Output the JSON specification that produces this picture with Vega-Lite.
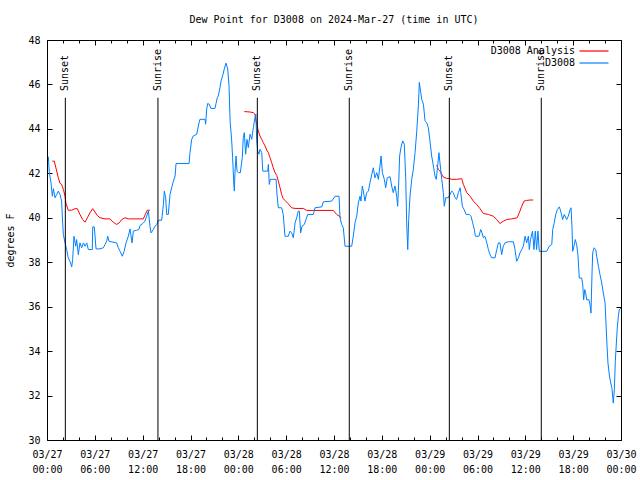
{
"$schema": "https://vega.github.io/schema/vega-lite/v6.json",
"width": 574, "height": 400,
"autosize": {"type": "none"},
"padding": {"left": 47, "top": 40, "right": 19, "bottom": 40},
"background": "white",
"title": {"text": "Dew Point for D3008 on 2024-Mar-27 (time in UTC)", "font": "DejaVu Sans Mono", "fontSize": 10, "fontWeight": "normal", "color": "black", "anchor": "middle", "offset": 10},
"datasets": {
"dew": [
{"t":"2024-03-27T00:10:00Z","v":42.75,"s":"D3008","g":0},
{"t":"2024-03-27T00:17:00Z","v":42.06,"s":"D3008","g":0},
{"t":"2024-03-27T00:30:00Z","v":41.58,"s":"D3008","g":0},
{"t":"2024-03-27T00:40:00Z","v":40.97,"s":"D3008","g":0},
{"t":"2024-03-27T00:48:00Z","v":41.31,"s":"D3008","g":0},
{"t":"2024-03-27T01:00:00Z","v":40.9,"s":"D3008","g":0},
{"t":"2024-03-27T01:13:00Z","v":41.05,"s":"D3008","g":0},
{"t":"2024-03-27T01:25:00Z","v":41.2,"s":"D3008","g":0},
{"t":"2024-03-27T01:38:00Z","v":41.05,"s":"D3008","g":0},
{"t":"2024-03-27T01:50:00Z","v":40.75,"s":"D3008","g":0},
{"t":"2024-03-27T01:58:00Z","v":39.77,"s":"D3008","g":0},
{"t":"2024-03-27T02:03:00Z","v":39.25,"s":"D3008","g":0},
{"t":"2024-03-27T02:16:00Z","v":38.87,"s":"D3008","g":0},
{"t":"2024-03-27T02:28:00Z","v":38.57,"s":"D3008","g":0},
{"t":"2024-03-27T02:40:00Z","v":38.2,"s":"D3008","g":0},
{"t":"2024-03-27T02:53:00Z","v":38.04,"s":"D3008","g":0},
{"t":"2024-03-27T03:06:00Z","v":37.79,"s":"D3008","g":0},
{"t":"2024-03-27T03:13:00Z","v":38.12,"s":"D3008","g":0},
{"t":"2024-03-27T03:23:00Z","v":39.17,"s":"D3008","g":0},
{"t":"2024-03-27T03:36:00Z","v":38.72,"s":"D3008","g":0},
{"t":"2024-03-27T03:43:00Z","v":39.02,"s":"D3008","g":0},
{"t":"2024-03-27T03:56:00Z","v":38.34,"s":"D3008","g":0},
{"t":"2024-03-27T04:08:00Z","v":38.87,"s":"D3008","g":0},
{"t":"2024-03-27T04:21:00Z","v":38.65,"s":"D3008","g":0},
{"t":"2024-03-27T04:34:00Z","v":38.87,"s":"D3008","g":0},
{"t":"2024-03-27T04:46:00Z","v":38.72,"s":"D3008","g":0},
{"t":"2024-03-27T04:59:00Z","v":38.87,"s":"D3008","g":0},
{"t":"2024-03-27T05:11:00Z","v":38.57,"s":"D3008","g":0},
{"t":"2024-03-27T05:41:00Z","v":38.57,"s":"D3008","g":0},
{"t":"2024-03-27T05:44:00Z","v":39.59,"s":"D3008","g":0},
{"t":"2024-03-27T05:56:00Z","v":39.59,"s":"D3008","g":0},
{"t":"2024-03-27T06:09:00Z","v":38.6,"s":"D3008","g":0},
{"t":"2024-03-27T06:39:00Z","v":38.6,"s":"D3008","g":0},
{"t":"2024-03-27T07:04:00Z","v":38.65,"s":"D3008","g":0},
{"t":"2024-03-27T07:17:00Z","v":38.8,"s":"D3008","g":0},
{"t":"2024-03-27T07:29:00Z","v":38.94,"s":"D3008","g":0},
{"t":"2024-03-27T07:37:00Z","v":39.17,"s":"D3008","g":0},
{"t":"2024-03-27T07:47:00Z","v":38.94,"s":"D3008","g":0},
{"t":"2024-03-27T08:44:00Z","v":38.87,"s":"D3008","g":0},
{"t":"2024-03-27T08:57:00Z","v":38.65,"s":"D3008","g":0},
{"t":"2024-03-27T09:10:00Z","v":38.49,"s":"D3008","g":0},
{"t":"2024-03-27T09:27:00Z","v":38.27,"s":"D3008","g":0},
{"t":"2024-03-27T09:40:00Z","v":38.49,"s":"D3008","g":0},
{"t":"2024-03-27T09:55:00Z","v":38.87,"s":"D3008","g":0},
{"t":"2024-03-27T10:12:00Z","v":39.17,"s":"D3008","g":0},
{"t":"2024-03-27T10:25:00Z","v":39.5,"s":"D3008","g":0},
{"t":"2024-03-27T10:40:00Z","v":38.87,"s":"D3008","g":0},
{"t":"2024-03-27T10:50:00Z","v":39.4,"s":"D3008","g":0},
{"t":"2024-03-27T11:15:00Z","v":39.44,"s":"D3008","g":0},
{"t":"2024-03-27T11:32:00Z","v":39.47,"s":"D3008","g":0},
{"t":"2024-03-27T11:40:00Z","v":39.65,"s":"D3008","g":0},
{"t":"2024-03-27T12:00:00Z","v":39.74,"s":"D3008","g":0},
{"t":"2024-03-27T12:17:00Z","v":39.85,"s":"D3008","g":0},
{"t":"2024-03-27T12:30:00Z","v":40.07,"s":"D3008","g":0},
{"t":"2024-03-27T12:43:00Z","v":40.3,"s":"D3008","g":0},
{"t":"2024-03-27T12:55:00Z","v":39.62,"s":"D3008","g":0},
{"t":"2024-03-27T13:03:00Z","v":39.32,"s":"D3008","g":0},
{"t":"2024-03-27T13:20:00Z","v":39.47,"s":"D3008","g":0},
{"t":"2024-03-27T13:33:00Z","v":39.62,"s":"D3008","g":0},
{"t":"2024-03-27T13:46:00Z","v":39.7,"s":"D3008","g":0},
{"t":"2024-03-27T13:58:00Z","v":39.89,"s":"D3008","g":0},
{"t":"2024-03-27T14:23:00Z","v":39.89,"s":"D3008","g":0},
{"t":"2024-03-27T14:36:00Z","v":40.6,"s":"D3008","g":0},
{"t":"2024-03-27T14:43:00Z","v":41.2,"s":"D3008","g":0},
{"t":"2024-03-27T14:53:00Z","v":40.9,"s":"D3008","g":0},
{"t":"2024-03-27T15:01:00Z","v":40.15,"s":"D3008","g":0},
{"t":"2024-03-27T15:13:00Z","v":40.15,"s":"D3008","g":0},
{"t":"2024-03-27T15:26:00Z","v":41.05,"s":"D3008","g":0},
{"t":"2024-03-27T15:38:00Z","v":41.35,"s":"D3008","g":0},
{"t":"2024-03-27T15:51:00Z","v":41.65,"s":"D3008","g":0},
{"t":"2024-03-27T16:04:00Z","v":41.88,"s":"D3008","g":0},
{"t":"2024-03-27T16:11:00Z","v":42.44,"s":"D3008","g":0},
{"t":"2024-03-27T17:49:00Z","v":42.44,"s":"D3008","g":0},
{"t":"2024-03-27T17:56:00Z","v":42.93,"s":"D3008","g":0},
{"t":"2024-03-27T18:09:00Z","v":43.53,"s":"D3008","g":0},
{"t":"2024-03-27T18:21:00Z","v":43.68,"s":"D3008","g":0},
{"t":"2024-03-27T18:47:00Z","v":43.76,"s":"D3008","g":0},
{"t":"2024-03-27T18:59:00Z","v":44.13,"s":"D3008","g":0},
{"t":"2024-03-27T19:11:00Z","v":44.43,"s":"D3008","g":0},
{"t":"2024-03-27T19:49:00Z","v":44.43,"s":"D3008","g":0},
{"t":"2024-03-27T19:54:00Z","v":44.21,"s":"D3008","g":0},
{"t":"2024-03-27T20:02:00Z","v":44.89,"s":"D3008","g":0},
{"t":"2024-03-27T20:09:00Z","v":45.14,"s":"D3008","g":0},
{"t":"2024-03-27T20:21:00Z","v":45.11,"s":"D3008","g":0},
{"t":"2024-03-27T20:34:00Z","v":44.92,"s":"D3008","g":0},
{"t":"2024-03-27T21:04:00Z","v":44.92,"s":"D3008","g":0},
{"t":"2024-03-27T21:12:00Z","v":45.14,"s":"D3008","g":0},
{"t":"2024-03-27T21:22:00Z","v":45.41,"s":"D3008","g":0},
{"t":"2024-03-27T21:29:00Z","v":45.48,"s":"D3008","g":0},
{"t":"2024-03-27T21:42:00Z","v":45.86,"s":"D3008","g":0},
{"t":"2024-03-27T21:50:00Z","v":46.16,"s":"D3008","g":0},
{"t":"2024-03-27T22:02:00Z","v":46.39,"s":"D3008","g":0},
{"t":"2024-03-27T22:14:00Z","v":46.69,"s":"D3008","g":0},
{"t":"2024-03-27T22:27:00Z","v":46.96,"s":"D3008","g":0},
{"t":"2024-03-27T22:40:00Z","v":46.69,"s":"D3008","g":0},
{"t":"2024-03-27T22:50:00Z","v":45.94,"s":"D3008","g":0},
{"t":"2024-03-27T22:58:00Z","v":44.36,"s":"D3008","g":0},
{"t":"2024-03-27T23:10:00Z","v":43.46,"s":"D3008","g":0},
{"t":"2024-03-27T23:17:00Z","v":42.71,"s":"D3008","g":0},
{"t":"2024-03-27T23:25:00Z","v":41.65,"s":"D3008","g":0},
{"t":"2024-03-27T23:30:00Z","v":41.2,"s":"D3008","g":0},
{"t":"2024-03-27T23:35:00Z","v":42.1,"s":"D3008","g":0},
{"t":"2024-03-27T23:43:00Z","v":42.78,"s":"D3008","g":0},
{"t":"2024-03-27T23:50:00Z","v":42.1,"s":"D3008","g":0},
{"t":"2024-03-28T00:00:00Z","v":42.03,"s":"D3008","g":0},
{"t":"2024-03-28T00:15:00Z","v":42.03,"s":"D3008","g":0},
{"t":"2024-03-28T00:30:00Z","v":42.71,"s":"D3008","g":0},
{"t":"2024-03-28T00:37:00Z","v":43.61,"s":"D3008","g":0},
{"t":"2024-03-28T00:45:00Z","v":43.83,"s":"D3008","g":0},
{"t":"2024-03-28T00:55:00Z","v":42.86,"s":"D3008","g":0},
{"t":"2024-03-28T01:05:00Z","v":43.53,"s":"D3008","g":0},
{"t":"2024-03-28T01:15:00Z","v":43.16,"s":"D3008","g":0},
{"t":"2024-03-28T01:28:00Z","v":43.76,"s":"D3008","g":0},
{"t":"2024-03-28T01:41:00Z","v":43.53,"s":"D3008","g":0},
{"t":"2024-03-28T01:53:00Z","v":44.06,"s":"D3008","g":0},
{"t":"2024-03-28T02:05:00Z","v":44.51,"s":"D3008","g":0},
{"t":"2024-03-28T02:12:00Z","v":44.66,"s":"D3008","g":0},
{"t":"2024-03-28T02:18:00Z","v":43.53,"s":"D3008","g":0},
{"t":"2024-03-28T02:26:00Z","v":43.0,"s":"D3008","g":0},
{"t":"2024-03-28T02:35:00Z","v":42.86,"s":"D3008","g":0},
{"t":"2024-03-28T02:43:00Z","v":43.08,"s":"D3008","g":0},
{"t":"2024-03-28T02:56:00Z","v":42.93,"s":"D3008","g":0},
{"t":"2024-03-28T03:04:00Z","v":42.1,"s":"D3008","g":0},
{"t":"2024-03-28T03:41:00Z","v":42.1,"s":"D3008","g":0},
{"t":"2024-03-28T03:46:00Z","v":42.4,"s":"D3008","g":0},
{"t":"2024-03-28T03:53:00Z","v":41.5,"s":"D3008","g":0},
{"t":"2024-03-28T04:01:00Z","v":41.73,"s":"D3008","g":0},
{"t":"2024-03-28T04:44:00Z","v":41.73,"s":"D3008","g":0},
{"t":"2024-03-28T04:51:00Z","v":41.05,"s":"D3008","g":0},
{"t":"2024-03-28T05:01:00Z","v":40.45,"s":"D3008","g":0},
{"t":"2024-03-28T05:26:00Z","v":40.45,"s":"D3008","g":0},
{"t":"2024-03-28T05:38:00Z","v":40.15,"s":"D3008","g":0},
{"t":"2024-03-28T05:51:00Z","v":39.17,"s":"D3008","g":0},
{"t":"2024-03-28T06:16:00Z","v":39.17,"s":"D3008","g":0},
{"t":"2024-03-28T06:29:00Z","v":39.4,"s":"D3008","g":0},
{"t":"2024-03-28T06:41:00Z","v":39.32,"s":"D3008","g":0},
{"t":"2024-03-28T06:54:00Z","v":39.1,"s":"D3008","g":0},
{"t":"2024-03-28T07:07:00Z","v":39.77,"s":"D3008","g":0},
{"t":"2024-03-28T07:19:00Z","v":40.0,"s":"D3008","g":0},
{"t":"2024-03-28T07:31:00Z","v":40.3,"s":"D3008","g":0},
{"t":"2024-03-28T07:39:00Z","v":40.3,"s":"D3008","g":0},
{"t":"2024-03-28T07:49:00Z","v":39.32,"s":"D3008","g":0},
{"t":"2024-03-28T07:59:00Z","v":39.62,"s":"D3008","g":0},
{"t":"2024-03-28T08:17:00Z","v":39.7,"s":"D3008","g":0},
{"t":"2024-03-28T08:29:00Z","v":39.92,"s":"D3008","g":0},
{"t":"2024-03-28T08:42:00Z","v":40.15,"s":"D3008","g":0},
{"t":"2024-03-28T09:25:00Z","v":40.15,"s":"D3008","g":0},
{"t":"2024-03-28T09:37:00Z","v":40.45,"s":"D3008","g":0},
{"t":"2024-03-28T10:28:00Z","v":40.49,"s":"D3008","g":0},
{"t":"2024-03-28T10:40:00Z","v":40.72,"s":"D3008","g":0},
{"t":"2024-03-28T11:43:00Z","v":40.75,"s":"D3008","g":0},
{"t":"2024-03-28T12:08:00Z","v":40.97,"s":"D3008","g":0},
{"t":"2024-03-28T12:38:00Z","v":40.97,"s":"D3008","g":0},
{"t":"2024-03-28T12:45:00Z","v":40.0,"s":"D3008","g":0},
{"t":"2024-03-28T12:58:00Z","v":39.7,"s":"D3008","g":0},
{"t":"2024-03-28T13:10:00Z","v":39.55,"s":"D3008","g":0},
{"t":"2024-03-28T13:23:00Z","v":38.72,"s":"D3008","g":0},
{"t":"2024-03-28T14:13:00Z","v":38.72,"s":"D3008","g":0},
{"t":"2024-03-28T14:25:00Z","v":39.17,"s":"D3008","g":0},
{"t":"2024-03-28T14:38:00Z","v":39.77,"s":"D3008","g":0},
{"t":"2024-03-28T14:51:00Z","v":40.07,"s":"D3008","g":0},
{"t":"2024-03-28T15:03:00Z","v":40.67,"s":"D3008","g":0},
{"t":"2024-03-28T15:16:00Z","v":40.97,"s":"D3008","g":0},
{"t":"2024-03-28T15:23:00Z","v":40.75,"s":"D3008","g":0},
{"t":"2024-03-28T15:33:00Z","v":41.43,"s":"D3008","g":0},
{"t":"2024-03-28T15:41:00Z","v":41.2,"s":"D3008","g":0},
{"t":"2024-03-28T15:53:00Z","v":40.75,"s":"D3008","g":0},
{"t":"2024-03-28T16:06:00Z","v":41.13,"s":"D3008","g":0},
{"t":"2024-03-28T16:19:00Z","v":41.2,"s":"D3008","g":0},
{"t":"2024-03-28T16:31:00Z","v":41.58,"s":"D3008","g":0},
{"t":"2024-03-28T16:44:00Z","v":41.95,"s":"D3008","g":0},
{"t":"2024-03-28T16:56:00Z","v":42.25,"s":"D3008","g":0},
{"t":"2024-03-28T17:08:00Z","v":41.8,"s":"D3008","g":0},
{"t":"2024-03-28T17:22:00Z","v":42.03,"s":"D3008","g":0},
{"t":"2024-03-28T17:34:00Z","v":41.73,"s":"D3008","g":0},
{"t":"2024-03-28T17:46:00Z","v":42.33,"s":"D3008","g":0},
{"t":"2024-03-28T17:54:00Z","v":42.78,"s":"D3008","g":0},
{"t":"2024-03-28T18:04:00Z","v":42.03,"s":"D3008","g":0},
{"t":"2024-03-28T18:19:00Z","v":41.73,"s":"D3008","g":0},
{"t":"2024-03-28T18:29:00Z","v":41.35,"s":"D3008","g":0},
{"t":"2024-03-28T18:41:00Z","v":41.8,"s":"D3008","g":0},
{"t":"2024-03-28T19:02:00Z","v":41.85,"s":"D3008","g":0},
{"t":"2024-03-28T19:14:00Z","v":41.43,"s":"D3008","g":0},
{"t":"2024-03-28T19:26:00Z","v":41.13,"s":"D3008","g":0},
{"t":"2024-03-28T19:39:00Z","v":41.43,"s":"D3008","g":0},
{"t":"2024-03-28T19:52:00Z","v":40.97,"s":"D3008","g":0},
{"t":"2024-03-28T19:59:00Z","v":40.52,"s":"D3008","g":0},
{"t":"2024-03-28T20:07:00Z","v":41.58,"s":"D3008","g":0},
{"t":"2024-03-28T20:14:00Z","v":42.78,"s":"D3008","g":0},
{"t":"2024-03-28T20:24:00Z","v":43.16,"s":"D3008","g":0},
{"t":"2024-03-28T20:37:00Z","v":43.46,"s":"D3008","g":0},
{"t":"2024-03-28T20:49:00Z","v":43.31,"s":"D3008","g":0},
{"t":"2024-03-28T21:00:00Z","v":41.73,"s":"D3008","g":0},
{"t":"2024-03-28T21:07:00Z","v":39.77,"s":"D3008","g":0},
{"t":"2024-03-28T21:15:00Z","v":38.57,"s":"D3008","g":0},
{"t":"2024-03-28T21:22:00Z","v":39.92,"s":"D3008","g":0},
{"t":"2024-03-28T21:32:00Z","v":40.97,"s":"D3008","g":0},
{"t":"2024-03-28T21:45:00Z","v":41.73,"s":"D3008","g":0},
{"t":"2024-03-28T21:57:00Z","v":42.18,"s":"D3008","g":0},
{"t":"2024-03-28T22:10:00Z","v":42.93,"s":"D3008","g":0},
{"t":"2024-03-28T22:23:00Z","v":43.91,"s":"D3008","g":0},
{"t":"2024-03-28T22:35:00Z","v":45.03,"s":"D3008","g":0},
{"t":"2024-03-28T22:42:00Z","v":46.09,"s":"D3008","g":0},
{"t":"2024-03-28T22:53:00Z","v":45.63,"s":"D3008","g":0},
{"t":"2024-03-28T23:00:00Z","v":45.33,"s":"D3008","g":0},
{"t":"2024-03-28T23:13:00Z","v":45.11,"s":"D3008","g":0},
{"t":"2024-03-28T23:25:00Z","v":44.36,"s":"D3008","g":0},
{"t":"2024-03-28T23:38:00Z","v":44.28,"s":"D3008","g":0},
{"t":"2024-03-28T23:50:00Z","v":44.06,"s":"D3008","g":0},
{"t":"2024-03-29T00:02:00Z","v":43.46,"s":"D3008","g":0},
{"t":"2024-03-29T00:15:00Z","v":42.78,"s":"D3008","g":0},
{"t":"2024-03-29T00:28:00Z","v":42.33,"s":"D3008","g":0},
{"t":"2024-03-29T00:40:00Z","v":41.88,"s":"D3008","g":0},
{"t":"2024-03-29T00:50:00Z","v":41.73,"s":"D3008","g":0},
{"t":"2024-03-29T01:00:00Z","v":42.33,"s":"D3008","g":0},
{"t":"2024-03-29T01:10:00Z","v":42.93,"s":"D3008","g":0},
{"t":"2024-03-29T01:20:00Z","v":42.33,"s":"D3008","g":0},
{"t":"2024-03-29T01:31:00Z","v":41.73,"s":"D3008","g":0},
{"t":"2024-03-29T01:43:00Z","v":41.13,"s":"D3008","g":0},
{"t":"2024-03-29T01:50:00Z","v":40.52,"s":"D3008","g":0},
{"t":"2024-03-29T02:01:00Z","v":40.9,"s":"D3008","g":0},
{"t":"2024-03-29T02:20:00Z","v":40.9,"s":"D3008","g":0},
{"t":"2024-03-29T02:33:00Z","v":41.05,"s":"D3008","g":0},
{"t":"2024-03-29T02:46:00Z","v":41.2,"s":"D3008","g":0},
{"t":"2024-03-29T02:58:00Z","v":41.13,"s":"D3008","g":0},
{"t":"2024-03-29T03:11:00Z","v":40.9,"s":"D3008","g":0},
{"t":"2024-03-29T03:23:00Z","v":40.83,"s":"D3008","g":0},
{"t":"2024-03-29T03:36:00Z","v":41.13,"s":"D3008","g":0},
{"t":"2024-03-29T03:49:00Z","v":41.35,"s":"D3008","g":0},
{"t":"2024-03-29T03:54:00Z","v":41.13,"s":"D3008","g":0},
{"t":"2024-03-29T04:06:00Z","v":40.52,"s":"D3008","g":0},
{"t":"2024-03-29T04:19:00Z","v":40.37,"s":"D3008","g":0},
{"t":"2024-03-29T04:34:00Z","v":40.15,"s":"D3008","g":0},
{"t":"2024-03-29T04:58:00Z","v":40.15,"s":"D3008","g":0},
{"t":"2024-03-29T05:11:00Z","v":40.07,"s":"D3008","g":0},
{"t":"2024-03-29T05:24:00Z","v":39.77,"s":"D3008","g":0},
{"t":"2024-03-29T05:36:00Z","v":39.47,"s":"D3008","g":0},
{"t":"2024-03-29T05:44:00Z","v":39.17,"s":"D3008","g":0},
{"t":"2024-03-29T06:11:00Z","v":39.17,"s":"D3008","g":0},
{"t":"2024-03-29T06:24:00Z","v":39.47,"s":"D3008","g":0},
{"t":"2024-03-29T06:34:00Z","v":39.32,"s":"D3008","g":0},
{"t":"2024-03-29T06:44:00Z","v":39.1,"s":"D3008","g":0},
{"t":"2024-03-29T06:56:00Z","v":39.17,"s":"D3008","g":0},
{"t":"2024-03-29T07:10:00Z","v":38.87,"s":"D3008","g":0},
{"t":"2024-03-29T07:22:00Z","v":38.57,"s":"D3008","g":0},
{"t":"2024-03-29T07:34:00Z","v":38.34,"s":"D3008","g":0},
{"t":"2024-03-29T07:47:00Z","v":38.2,"s":"D3008","g":0},
{"t":"2024-03-29T08:12:00Z","v":38.2,"s":"D3008","g":0},
{"t":"2024-03-29T08:25:00Z","v":38.57,"s":"D3008","g":0},
{"t":"2024-03-29T08:37:00Z","v":38.87,"s":"D3008","g":0},
{"t":"2024-03-29T08:49:00Z","v":38.87,"s":"D3008","g":0},
{"t":"2024-03-29T09:02:00Z","v":38.34,"s":"D3008","g":0},
{"t":"2024-03-29T09:14:00Z","v":38.72,"s":"D3008","g":0},
{"t":"2024-03-29T09:27:00Z","v":38.87,"s":"D3008","g":0},
{"t":"2024-03-29T09:52:00Z","v":38.92,"s":"D3008","g":0},
{"t":"2024-03-29T10:30:00Z","v":38.92,"s":"D3008","g":0},
{"t":"2024-03-29T10:42:00Z","v":38.57,"s":"D3008","g":0},
{"t":"2024-03-29T10:55:00Z","v":38.04,"s":"D3008","g":0},
{"t":"2024-03-29T11:08:00Z","v":38.2,"s":"D3008","g":0},
{"t":"2024-03-29T11:20:00Z","v":38.42,"s":"D3008","g":0},
{"t":"2024-03-29T11:33:00Z","v":38.57,"s":"D3008","g":0},
{"t":"2024-03-29T11:45:00Z","v":38.72,"s":"D3008","g":0},
{"t":"2024-03-29T11:58:00Z","v":39.17,"s":"D3008","g":0},
{"t":"2024-03-29T12:10:00Z","v":38.87,"s":"D3008","g":0},
{"t":"2024-03-29T12:23:00Z","v":39.17,"s":"D3008","g":0},
{"t":"2024-03-29T12:30:00Z","v":38.57,"s":"D3008","g":0},
{"t":"2024-03-29T12:39:00Z","v":39.02,"s":"D3008","g":0},
{"t":"2024-03-29T12:54:00Z","v":39.4,"s":"D3008","g":0},
{"t":"2024-03-29T13:05:00Z","v":38.57,"s":"D3008","g":0},
{"t":"2024-03-29T13:15:00Z","v":39.4,"s":"D3008","g":0},
{"t":"2024-03-29T13:25:00Z","v":38.57,"s":"D3008","g":0},
{"t":"2024-03-29T13:35:00Z","v":39.4,"s":"D3008","g":0},
{"t":"2024-03-29T13:45:00Z","v":38.49,"s":"D3008","g":0},
{"t":"2024-03-29T14:41:00Z","v":38.49,"s":"D3008","g":0},
{"t":"2024-03-29T15:00:00Z","v":38.72,"s":"D3008","g":0},
{"t":"2024-03-29T15:19:00Z","v":38.8,"s":"D3008","g":0},
{"t":"2024-03-29T15:26:00Z","v":39.47,"s":"D3008","g":0},
{"t":"2024-03-29T15:36:00Z","v":39.74,"s":"D3008","g":0},
{"t":"2024-03-29T15:49:00Z","v":40.15,"s":"D3008","g":0},
{"t":"2024-03-29T16:01:00Z","v":40.37,"s":"D3008","g":0},
{"t":"2024-03-29T16:16:00Z","v":40.49,"s":"D3008","g":0},
{"t":"2024-03-29T16:26:00Z","v":40.3,"s":"D3008","g":0},
{"t":"2024-03-29T16:41:00Z","v":39.92,"s":"D3008","g":0},
{"t":"2024-03-29T16:53:00Z","v":40.15,"s":"D3008","g":0},
{"t":"2024-03-29T17:11:00Z","v":39.92,"s":"D3008","g":0},
{"t":"2024-03-29T17:23:00Z","v":40.07,"s":"D3008","g":0},
{"t":"2024-03-29T17:37:00Z","v":40.37,"s":"D3008","g":0},
{"t":"2024-03-29T17:44:00Z","v":40.45,"s":"D3008","g":0},
{"t":"2024-03-29T17:52:00Z","v":39.47,"s":"D3008","g":0},
{"t":"2024-03-29T17:56:00Z","v":38.49,"s":"D3008","g":0},
{"t":"2024-03-29T18:06:00Z","v":38.72,"s":"D3008","g":0},
{"t":"2024-03-29T18:16:00Z","v":39.02,"s":"D3008","g":0},
{"t":"2024-03-29T18:26:00Z","v":38.8,"s":"D3008","g":0},
{"t":"2024-03-29T18:36:00Z","v":38.34,"s":"D3008","g":0},
{"t":"2024-03-29T18:46:00Z","v":37.29,"s":"D3008","g":0},
{"t":"2024-03-29T19:04:00Z","v":37.29,"s":"D3008","g":0},
{"t":"2024-03-29T19:12:00Z","v":36.99,"s":"D3008","g":0},
{"t":"2024-03-29T19:19:00Z","v":36.31,"s":"D3008","g":0},
{"t":"2024-03-29T19:27:00Z","v":36.77,"s":"D3008","g":0},
{"t":"2024-03-29T19:34:00Z","v":36.62,"s":"D3008","g":0},
{"t":"2024-03-29T19:42:00Z","v":36.31,"s":"D3008","g":0},
{"t":"2024-03-29T19:59:00Z","v":36.31,"s":"D3008","g":0},
{"t":"2024-03-29T20:07:00Z","v":36.09,"s":"D3008","g":0},
{"t":"2024-03-29T20:14:00Z","v":35.71,"s":"D3008","g":0},
{"t":"2024-03-29T20:22:00Z","v":37.52,"s":"D3008","g":0},
{"t":"2024-03-29T20:27:00Z","v":38.42,"s":"D3008","g":0},
{"t":"2024-03-29T20:37:00Z","v":38.65,"s":"D3008","g":0},
{"t":"2024-03-29T20:50:00Z","v":38.57,"s":"D3008","g":0},
{"t":"2024-03-29T20:57:00Z","v":38.27,"s":"D3008","g":0},
{"t":"2024-03-29T21:10:00Z","v":37.82,"s":"D3008","g":0},
{"t":"2024-03-29T21:22:00Z","v":37.44,"s":"D3008","g":0},
{"t":"2024-03-29T21:35:00Z","v":37.07,"s":"D3008","g":0},
{"t":"2024-03-29T21:47:00Z","v":36.62,"s":"D3008","g":0},
{"t":"2024-03-29T22:00:00Z","v":36.17,"s":"D3008","g":0},
{"t":"2024-03-29T22:07:00Z","v":35.26,"s":"D3008","g":0},
{"t":"2024-03-29T22:15:00Z","v":34.21,"s":"D3008","g":0},
{"t":"2024-03-29T22:22:00Z","v":33.46,"s":"D3008","g":0},
{"t":"2024-03-29T22:32:00Z","v":32.93,"s":"D3008","g":0},
{"t":"2024-03-29T22:43:00Z","v":32.56,"s":"D3008","g":0},
{"t":"2024-03-29T22:52:00Z","v":32.33,"s":"D3008","g":0},
{"t":"2024-03-29T23:02:00Z","v":31.66,"s":"D3008","g":0},
{"t":"2024-03-29T23:10:00Z","v":32.26,"s":"D3008","g":0},
{"t":"2024-03-29T23:17:00Z","v":33.53,"s":"D3008","g":0},
{"t":"2024-03-29T23:25:00Z","v":34.36,"s":"D3008","g":0},
{"t":"2024-03-29T23:32:00Z","v":35.04,"s":"D3008","g":0},
{"t":"2024-03-29T23:40:00Z","v":35.56,"s":"D3008","g":0},
{"t":"2024-03-29T23:47:00Z","v":35.86,"s":"D3008","g":0},
{"t":"2024-03-30T00:00:00Z","v":35.94,"s":"D3008","g":0},
{"t":"2024-03-27T00:40:00Z","v":42.55,"s":"D3008 Analysis","g":1},
{"t":"2024-03-27T00:55:00Z","v":42.55,"s":"D3008 Analysis","g":1},
{"t":"2024-03-27T01:13:00Z","v":42.1,"s":"D3008 Analysis","g":1},
{"t":"2024-03-27T01:25:00Z","v":41.8,"s":"D3008 Analysis","g":1},
{"t":"2024-03-27T01:38:00Z","v":41.55,"s":"D3008 Analysis","g":1},
{"t":"2024-03-27T01:50:00Z","v":41.5,"s":"D3008 Analysis","g":1},
{"t":"2024-03-27T02:03:00Z","v":41.28,"s":"D3008 Analysis","g":1},
{"t":"2024-03-27T02:16:00Z","v":40.97,"s":"D3008 Analysis","g":1},
{"t":"2024-03-27T02:23:00Z","v":40.64,"s":"D3008 Analysis","g":1},
{"t":"2024-03-27T02:40:00Z","v":40.34,"s":"D3008 Analysis","g":1},
{"t":"2024-03-27T03:06:00Z","v":40.34,"s":"D3008 Analysis","g":1},
{"t":"2024-03-27T03:31:00Z","v":40.41,"s":"D3008 Analysis","g":1},
{"t":"2024-03-27T03:48:00Z","v":40.41,"s":"D3008 Analysis","g":1},
{"t":"2024-03-27T04:08:00Z","v":40.15,"s":"D3008 Analysis","g":1},
{"t":"2024-03-27T04:28:00Z","v":39.92,"s":"D3008 Analysis","g":1},
{"t":"2024-03-27T04:46:00Z","v":39.8,"s":"D3008 Analysis","g":1},
{"t":"2024-03-27T05:04:00Z","v":40.0,"s":"D3008 Analysis","g":1},
{"t":"2024-03-27T05:23:00Z","v":40.22,"s":"D3008 Analysis","g":1},
{"t":"2024-03-27T05:44:00Z","v":40.41,"s":"D3008 Analysis","g":1},
{"t":"2024-03-27T06:01:00Z","v":40.26,"s":"D3008 Analysis","g":1},
{"t":"2024-03-27T06:19:00Z","v":40.1,"s":"D3008 Analysis","g":1},
{"t":"2024-03-27T06:39:00Z","v":40.0,"s":"D3008 Analysis","g":1},
{"t":"2024-03-27T07:17:00Z","v":39.95,"s":"D3008 Analysis","g":1},
{"t":"2024-03-27T07:54:00Z","v":39.95,"s":"D3008 Analysis","g":1},
{"t":"2024-03-27T08:19:00Z","v":39.8,"s":"D3008 Analysis","g":1},
{"t":"2024-03-27T08:44:00Z","v":39.7,"s":"D3008 Analysis","g":1},
{"t":"2024-03-27T09:04:00Z","v":39.77,"s":"D3008 Analysis","g":1},
{"t":"2024-03-27T09:22:00Z","v":39.92,"s":"D3008 Analysis","g":1},
{"t":"2024-03-27T09:47:00Z","v":40.0,"s":"D3008 Analysis","g":1},
{"t":"2024-03-27T10:12:00Z","v":39.95,"s":"D3008 Analysis","g":1},
{"t":"2024-03-27T12:05:00Z","v":39.95,"s":"D3008 Analysis","g":1},
{"t":"2024-03-27T12:20:00Z","v":40.15,"s":"D3008 Analysis","g":1},
{"t":"2024-03-27T12:35:00Z","v":40.34,"s":"D3008 Analysis","g":1},
{"t":"2024-03-27T12:55:00Z","v":40.34,"s":"D3008 Analysis","g":1},
{"t":"2024-03-28T00:45:00Z","v":44.78,"s":"D3008 Analysis","g":2},
{"t":"2024-03-28T01:28:00Z","v":44.76,"s":"D3008 Analysis","g":2},
{"t":"2024-03-28T01:53:00Z","v":44.73,"s":"D3008 Analysis","g":2},
{"t":"2024-03-28T02:05:00Z","v":44.66,"s":"D3008 Analysis","g":2},
{"t":"2024-03-28T02:18:00Z","v":44.21,"s":"D3008 Analysis","g":2},
{"t":"2024-03-28T02:30:00Z","v":43.91,"s":"D3008 Analysis","g":2},
{"t":"2024-03-28T02:43:00Z","v":43.68,"s":"D3008 Analysis","g":2},
{"t":"2024-03-28T02:56:00Z","v":43.53,"s":"D3008 Analysis","g":2},
{"t":"2024-03-28T03:08:00Z","v":43.38,"s":"D3008 Analysis","g":2},
{"t":"2024-03-28T03:21:00Z","v":43.23,"s":"D3008 Analysis","g":2},
{"t":"2024-03-28T03:34:00Z","v":43.05,"s":"D3008 Analysis","g":2},
{"t":"2024-03-28T03:46:00Z","v":42.93,"s":"D3008 Analysis","g":2},
{"t":"2024-03-28T03:58:00Z","v":42.71,"s":"D3008 Analysis","g":2},
{"t":"2024-03-28T04:11:00Z","v":42.48,"s":"D3008 Analysis","g":2},
{"t":"2024-03-28T04:23:00Z","v":42.25,"s":"D3008 Analysis","g":2},
{"t":"2024-03-28T04:36:00Z","v":42.03,"s":"D3008 Analysis","g":2},
{"t":"2024-03-28T04:49:00Z","v":41.91,"s":"D3008 Analysis","g":2},
{"t":"2024-03-28T05:01:00Z","v":41.65,"s":"D3008 Analysis","g":2},
{"t":"2024-03-28T05:14:00Z","v":41.35,"s":"D3008 Analysis","g":2},
{"t":"2024-03-28T05:26:00Z","v":41.05,"s":"D3008 Analysis","g":2},
{"t":"2024-03-28T05:38:00Z","v":40.86,"s":"D3008 Analysis","g":2},
{"t":"2024-03-28T05:51:00Z","v":40.78,"s":"D3008 Analysis","g":2},
{"t":"2024-03-28T06:16:00Z","v":40.63,"s":"D3008 Analysis","g":2},
{"t":"2024-03-28T06:41:00Z","v":40.45,"s":"D3008 Analysis","g":2},
{"t":"2024-03-28T07:07:00Z","v":40.42,"s":"D3008 Analysis","g":2},
{"t":"2024-03-28T08:09:00Z","v":40.42,"s":"D3008 Analysis","g":2},
{"t":"2024-03-28T08:35:00Z","v":40.33,"s":"D3008 Analysis","g":2},
{"t":"2024-03-28T11:55:00Z","v":40.33,"s":"D3008 Analysis","g":2},
{"t":"2024-03-28T12:20:00Z","v":40.15,"s":"D3008 Analysis","g":2},
{"t":"2024-03-28T12:45:00Z","v":40.05,"s":"D3008 Analysis","g":2},
{"t":"2024-03-28T12:55:00Z","v":40.0,"s":"D3008 Analysis","g":2},
{"t":"2024-03-29T00:53:00Z","v":42.37,"s":"D3008 Analysis","g":3},
{"t":"2024-03-29T01:05:00Z","v":42.18,"s":"D3008 Analysis","g":3},
{"t":"2024-03-29T01:18:00Z","v":42.1,"s":"D3008 Analysis","g":3},
{"t":"2024-03-29T01:35:00Z","v":41.91,"s":"D3008 Analysis","g":3},
{"t":"2024-03-29T01:43:00Z","v":41.83,"s":"D3008 Analysis","g":3},
{"t":"2024-03-29T02:08:00Z","v":41.77,"s":"D3008 Analysis","g":3},
{"t":"2024-03-29T02:33:00Z","v":41.76,"s":"D3008 Analysis","g":3},
{"t":"2024-03-29T02:46:00Z","v":41.73,"s":"D3008 Analysis","g":3},
{"t":"2024-03-29T03:23:00Z","v":41.73,"s":"D3008 Analysis","g":3},
{"t":"2024-03-29T04:01:00Z","v":41.76,"s":"D3008 Analysis","g":3},
{"t":"2024-03-29T04:14:00Z","v":41.5,"s":"D3008 Analysis","g":3},
{"t":"2024-03-29T04:39:00Z","v":41.13,"s":"D3008 Analysis","g":3},
{"t":"2024-03-29T05:04:00Z","v":40.97,"s":"D3008 Analysis","g":3},
{"t":"2024-03-29T05:29:00Z","v":40.75,"s":"D3008 Analysis","g":3},
{"t":"2024-03-29T05:54:00Z","v":40.6,"s":"D3008 Analysis","g":3},
{"t":"2024-03-29T06:19:00Z","v":40.41,"s":"D3008 Analysis","g":3},
{"t":"2024-03-29T06:44:00Z","v":40.19,"s":"D3008 Analysis","g":3},
{"t":"2024-03-29T07:22:00Z","v":40.15,"s":"D3008 Analysis","g":3},
{"t":"2024-03-29T07:59:00Z","v":40.07,"s":"D3008 Analysis","g":3},
{"t":"2024-03-29T08:25:00Z","v":39.92,"s":"D3008 Analysis","g":3},
{"t":"2024-03-29T08:49:00Z","v":39.74,"s":"D3008 Analysis","g":3},
{"t":"2024-03-29T09:14:00Z","v":39.85,"s":"D3008 Analysis","g":3},
{"t":"2024-03-29T09:40:00Z","v":39.92,"s":"D3008 Analysis","g":3},
{"t":"2024-03-29T10:17:00Z","v":39.95,"s":"D3008 Analysis","g":3},
{"t":"2024-03-29T10:59:00Z","v":40.0,"s":"D3008 Analysis","g":3},
{"t":"2024-03-29T11:14:00Z","v":40.22,"s":"D3008 Analysis","g":3},
{"t":"2024-03-29T11:33:00Z","v":40.52,"s":"D3008 Analysis","g":3},
{"t":"2024-03-29T11:50:00Z","v":40.75,"s":"D3008 Analysis","g":3},
{"t":"2024-03-29T12:10:00Z","v":40.78,"s":"D3008 Analysis","g":3},
{"t":"2024-03-29T12:35:00Z","v":40.8,"s":"D3008 Analysis","g":3},
{"t":"2024-03-29T13:00:00Z","v":40.8,"s":"D3008 Analysis","g":3}
],
"sun": [
{"t":"2024-03-27T02:18:00Z","label":"Sunset"},
{"t":"2024-03-27T13:55:00Z","label":"Sunrise"},
{"t":"2024-03-28T02:23:00Z","label":"Sunset"},
{"t":"2024-03-28T13:55:00Z","label":"Sunrise"},
{"t":"2024-03-29T02:28:00Z","label":"Sunset"},
{"t":"2024-03-29T14:00:00Z","label":"Sunrise"}
]
},
"layer": [
{
"data": {"name": "dew"},
"transform": [{"filter": "datum.s === 'D3008 Analysis'"}],
"mark": {"type": "line", "strokeWidth": 1, "interpolate": "linear"},
"encoding": {
"x": {"field": "t", "type": "temporal",
"scale": {"type": "utc", "domain": [1711497600000, 1711756800000], "nice": false},
"axis": {"orient": "bottom", "title": null,
"values": [1711497600000, 1711519200000, 1711540800000, 1711562400000, 1711584000000, 1711605600000, 1711627200000, 1711648800000, 1711670400000, 1711692000000, 1711713600000, 1711735200000, 1711756800000],
"labelExpr": "[utcFormat(datum.value, '%m/%d'), utcFormat(datum.value, '%H:%M')]",
"labelOverlap": false, "labelFlush": false, "labelPadding": 9, "labelLineHeight": 15, "labelBaseline": "top", "labelAlign": "center",
"offset": -5, "tickSize": 5}},
"y": {"field": "v", "type": "quantitative",
"scale": {"domain": [30, 48], "nice": false, "zero": false},
"axis": {"orient": "left", "title": "degrees F", "values": [30, 32, 34, 36, 38, 40, 42, 44, 46, 48], "format": "d", "offset": -5, "tickSize": 5, "labelPadding": 7, "titlePadding": 12}},
"color": {"field": "s", "type": "nominal",
"scale": {"domain": ["D3008 Analysis", "D3008"], "range": ["#ff0000", "#0080ff"]},
"legend": {"title": null, "orient": "none", "legendX": 542, "legendY": 6, "symbolType": "M-5,0H5", "symbolSize": 33.64, "symbolStrokeWidth": 1.2, "labelAlign": "right", "labelOffset": -24, "rowPadding": 2, "padding": 0}},
"detail": {"field": "g", "type": "nominal"}
}
},
{
"data": {"name": "dew"},
"transform": [{"filter": "datum.s === 'D3008'"}],
"mark": {"type": "line", "strokeWidth": 1, "interpolate": "linear"},
"encoding": {
"x": {"field": "t", "type": "temporal",
"axis": {"orient": "top", "title": null, "labels": false,
"values": [1711497600000, 1711519200000, 1711540800000, 1711562400000, 1711584000000, 1711605600000, 1711627200000, 1711648800000, 1711670400000, 1711692000000, 1711713600000, 1711735200000, 1711756800000],
"offset": -5, "tickSize": 5}},
"y": {"field": "v", "type": "quantitative",
"axis": {"orient": "right", "title": null, "labels": false, "values": [30, 32, 34, 36, 38, 40, 42, 44, 46, 48], "offset": -5, "tickSize": 5}},
"color": {"field": "s", "type": "nominal"},
"detail": {"field": "g", "type": "nominal"}
}
},
{
"data": {"name": "sun"},
"mark": {"type": "rule", "color": "black", "strokeWidth": 1},
"encoding": {
"x": {"field": "t", "type": "temporal",
"axis": {"orient": "bottom", "title": null, "labels": false,
"values": [1711504800000, 1711512000000, 1711526400000, 1711533600000, 1711548000000, 1711555200000, 1711569600000, 1711576800000, 1711591200000, 1711598400000, 1711612800000, 1711620000000, 1711634400000, 1711641600000, 1711656000000, 1711663200000, 1711677600000, 1711684800000, 1711699200000, 1711706400000, 1711720800000, 1711728000000, 1711742400000, 1711749600000],
"offset": -3, "tickSize": 3}},
"y": {"datum": 30, "type": "quantitative", "axis": null},
"y2": {"datum": 45.4}
}
},
{
"data": {"name": "sun"},
"mark": {"type": "text", "angle": 270, "align": "left", "baseline": "middle", "font": "DejaVu Sans Mono", "fontSize": 10, "color": "black"},
"encoding": {
"x": {"field": "t", "type": "temporal",
"axis": {"orient": "top", "title": null, "labels": false,
"values": [1711504800000, 1711512000000, 1711526400000, 1711533600000, 1711548000000, 1711555200000, 1711569600000, 1711576800000, 1711591200000, 1711598400000, 1711612800000, 1711620000000, 1711634400000, 1711641600000, 1711656000000, 1711663200000, 1711677600000, 1711684800000, 1711699200000, 1711706400000, 1711720800000, 1711728000000, 1711742400000, 1711749600000],
"offset": -3, "tickSize": 3}},
"y": {"datum": 45.7, "type": "quantitative", "axis": null},
"text": {"field": "label"}
}
}
],
"resolve": {"axis": {"x": "independent", "y": "independent"}},
"config": {
"view": {"stroke": "black", "strokeWidth": 1},
"axis": {"labelFont": "DejaVu Sans Mono", "labelFontSize": 10, "labelColor": "black", "tickColor": "black", "tickWidth": 1, "domain": false, "grid": false, "titleFont": "DejaVu Sans Mono", "titleFontSize": 10, "titleFontWeight": "normal", "titleColor": "black"},
"legend": {"labelFont": "DejaVu Sans Mono", "labelFontSize": 10, "labelColor": "black"}
}
}
